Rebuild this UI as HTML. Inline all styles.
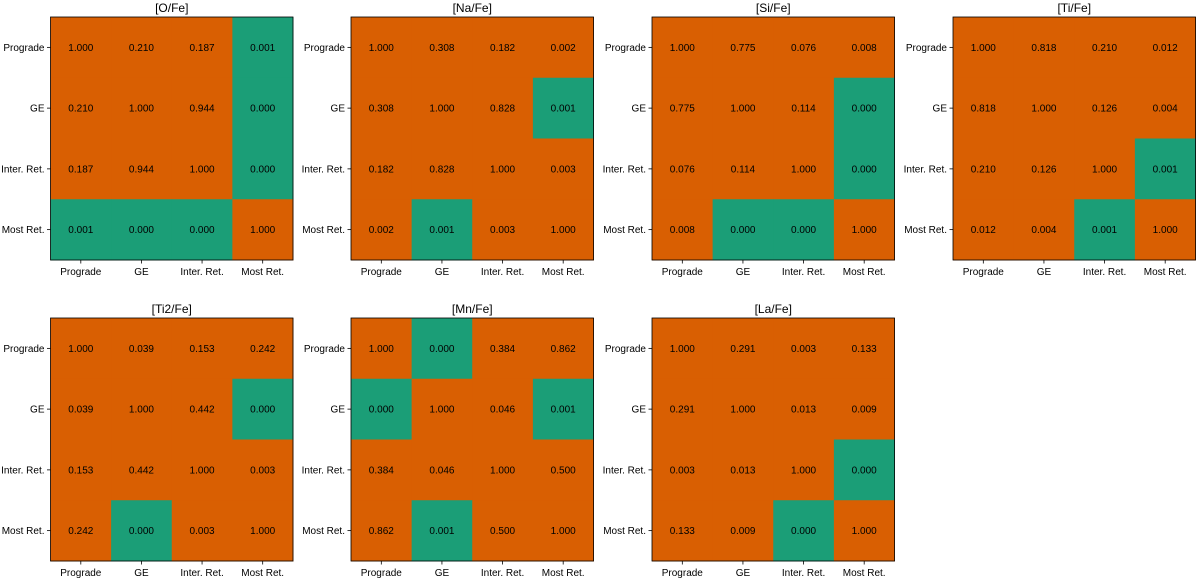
<!DOCTYPE html>
<html><head><meta charset="utf-8"><style>
html,body{margin:0;padding:0;background:#fff;}
svg{display:block;font-family:"Liberation Sans","DejaVu Sans",sans-serif;}
</style></head><body>
<svg id="chart" width="1200" height="581"></svg>
<script>
const labels = ["Prograde","GE","Inter. Ret.","Most Ret."];
const titles = ["[O/Fe]","[Na/Fe]","[Si/Fe]","[Ti/Fe]","[Ti2/Fe]","[Mn/Fe]","[La/Fe]"];
const values = [
 [[1,0.210,0.187,0.001],[0.210,1,0.944,0.000],[0.187,0.944,1,0.000],[0.001,0.000,0.000,1]],
 [[1,0.308,0.182,0.002],[0.308,1,0.828,0.001],[0.182,0.828,1,0.003],[0.002,0.001,0.003,1]],
 [[1,0.775,0.076,0.008],[0.775,1,0.114,0.000],[0.076,0.114,1,0.000],[0.008,0.000,0.000,1]],
 [[1,0.818,0.210,0.012],[0.818,1,0.126,0.004],[0.210,0.126,1,0.001],[0.012,0.004,0.001,1]],
 [[1,0.039,0.153,0.242],[0.039,1,0.442,0.000],[0.153,0.442,1,0.003],[0.242,0.000,0.003,1]],
 [[1,0.000,0.384,0.862],[0.000,1,0.046,0.001],[0.384,0.046,1,0.500],[0.862,0.001,0.500,1]],
 [[1,0.291,0.003,0.133],[0.291,1,0.013,0.009],[0.003,0.013,1,0.000],[0.133,0.009,0.000,1]]
];
const sig = [
 [[0,0,0,1],[0,0,0,1],[0,0,0,1],[1,1,1,0]],
 [[0,0,0,0],[0,0,0,1],[0,0,0,0],[0,1,0,0]],
 [[0,0,0,0],[0,0,0,1],[0,0,0,1],[0,1,1,0]],
 [[0,0,0,0],[0,0,0,0],[0,0,0,1],[0,0,1,0]],
 [[0,0,0,0],[0,0,0,1],[0,0,0,0],[0,1,0,0]],
 [[0,1,0,0],[1,0,0,1],[0,0,0,0],[0,1,0,0]],
 [[0,0,0,0],[0,0,0,0],[0,0,0,1],[0,0,1,0]]
];
const svg=document.getElementById('chart');
const NS="http://www.w3.org/2000/svg";
function mk(tag,attrs,parent){const e=document.createElementNS(NS,tag);for(const k in attrs)e.setAttribute(k,attrs[k]);parent.appendChild(e);return e;}
const lefts=[50.5,351,652,953], tops=[17,318], W=242.5, H=243;
titles.forEach((t,p)=>{
  const L=lefts[p%4], T=tops[Math.floor(p/4)];
  const g=mk('g',{},svg);
  
  
  const cw=W/4, ch=H/4;
  const xs=i=>L+i*cw, ys=j=>T+j*ch;
  for(let r=0;r<4;r++)for(let c=0;c<4;c++){
    const cell=mk('rect',{x:xs(c),y:ys(r),width:cw+0.5,height:ch+0.5,fill:sig[p][r][c]?'#1b9e77':'#d95f02'},g);
    
    
    const tx=mk('text',{x:xs(c)+cw/2,y:ys(r)+ch/2+3.5,'text-anchor':'middle','font-size':'10',fill:'#000'},g);
    tx.textContent=values[p][r][c].toFixed(3);
    
    
  }
  mk('rect',{x:L,y:T,width:W,height:H,fill:'none',stroke:'#000','stroke-width':0.8},g);
  const tt=mk('text',{x:L+W/2,y:T-5,'text-anchor':'middle','font-size':'12',fill:'#000'},g);
  tt.textContent=t;
  
  
  labels.forEach((lb,i)=>{
    const y=ys(i)+ch/2;
    mk('line',{x1:L-3.5,x2:L,y1:y,y2:y,stroke:'#000','stroke-width':0.8},g);
    const yl=mk('text',{x:L-6,y:y+3.5,'text-anchor':'end','font-size':'10',fill:'#000'},g);
    yl.textContent=lb;
    
    
    const x=xs(i)+cw/2;
    mk('line',{x1:x,x2:x,y1:T+H,y2:T+H+3.5,stroke:'#000','stroke-width':0.8},g);
    const xl=mk('text',{x:x,y:T+H+15,'text-anchor':'middle','font-size':'10',fill:'#000'},g);
    xl.textContent=lb;
    
    
  });
});
</script>
</body></html>
